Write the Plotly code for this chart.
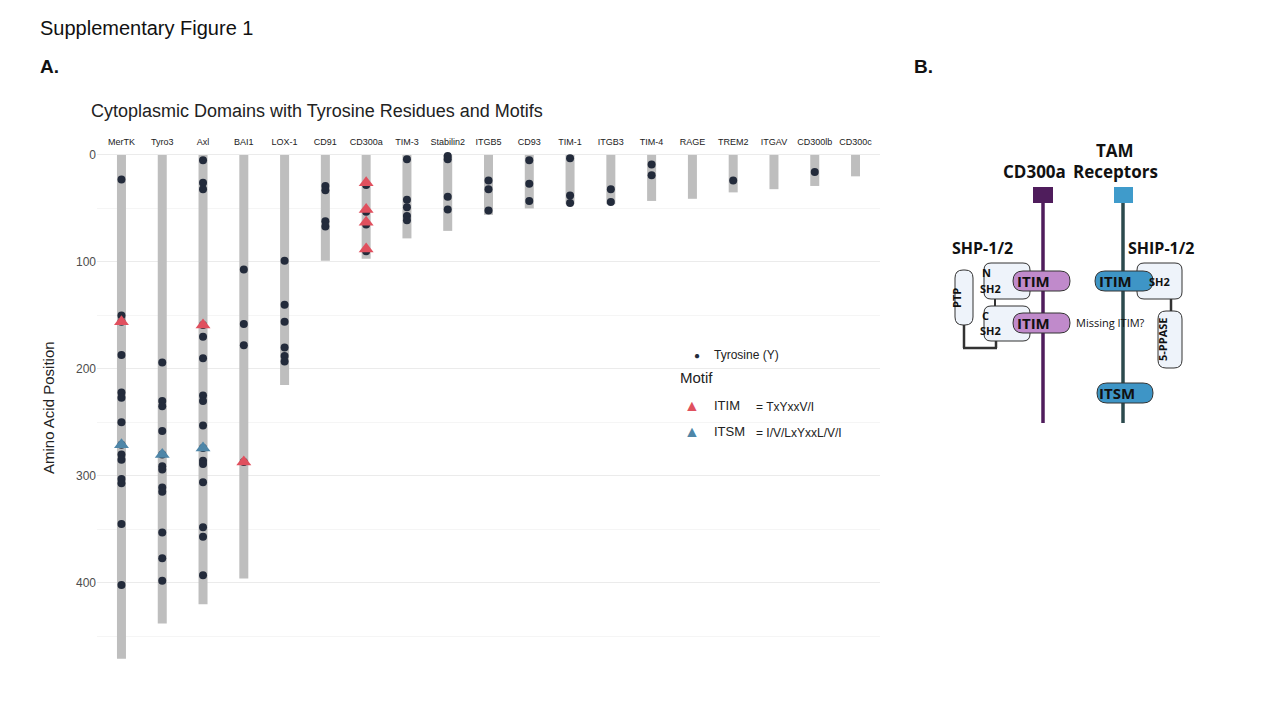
import plotly.graph_objects as go

PROTEINS = ["MerTK", "Tyro3", "Axl", "BAI1", "LOX-1", "CD91", "CD300a", "TIM-3", "Stabilin2",
            "ITGB5", "CD93", "TIM-1", "ITGB3", "TIM-4", "RAGE", "TREM2", "ITGAV", "CD300lb", "CD300c"]
LENGTHS = [471, 438, 420, 396, 215, 99, 97, 78, 71, 56, 50, 46, 46, 43, 41, 35, 32, 29, 20]
TYROSINES = {
    "MerTK": [23, 150, 156, 187, 222, 227, 250, 271, 280, 285, 303, 307, 345, 402],
    "Tyro3": [194, 230, 235, 258, 280, 291, 294, 311, 315, 353, 377, 398],
    "Axl": [5, 26, 32, 159, 170, 190, 225, 230, 253, 274, 286, 289, 306, 348, 357, 393],
    "BAI1": [107, 158, 178, 287],
    "LOX-1": [99, 140, 156, 180, 188, 193],
    "CD91": [29, 33, 62, 67],
    "CD300a": [28, 53, 65, 90],
    "TIM-3": [4, 42, 49, 57, 61],
    "Stabilin2": [1, 4, 39, 51],
    "ITGB5": [24, 32, 52],
    "CD93": [5, 27, 43],
    "TIM-1": [3, 38, 45],
    "ITGB3": [32, 44],
    "TIM-4": [9, 19],
    "TREM2": [24],
    "CD300lb": [16],
}
ITIM = {"MerTK": [156], "Axl": [159], "BAI1": [287], "CD300a": [26, 51, 63, 88]}
ITSM = {"MerTK": [271], "Tyro3": [280], "Axl": [274]}

W, H = 1280, 720
fig = go.Figure()

# cytoplasmic domain bars
bx, by = [], []
for p, l in zip(PROTEINS, LENGTHS):
    bx += [p, p, None]
    by += [0, l, None]
fig.add_trace(go.Scatter(x=bx, y=by, mode="lines", line=dict(color="#BEBEBE", width=9),
                         hoverinfo="skip", showlegend=False))

tx = [p for p, v in TYROSINES.items() for _ in v]
ty = [y for v in TYROSINES.values() for y in v]
fig.add_trace(go.Scatter(x=tx, y=ty, mode="markers", name="Tyrosine (Y)",
                         marker=dict(size=8, color="#232B3B"), showlegend=False))
for motifs, col, name in [(ITIM, "#E0505E", "ITIM"), (ITSM, "#4E86A8", "ITSM")]:
    mx = [p for p, v in motifs.items() for _ in v]
    my = [y for v in motifs.values() for y in v]
    fig.add_trace(go.Scatter(x=mx, y=my, mode="markers", name=name, showlegend=False,
                             marker=dict(size=13, symbol="triangle-up", color=col)))

# invisible full-page axes for panel B and annotations (pixel coordinates)
fig.add_trace(go.Scatter(x=[0], y=[0], xaxis="x2", yaxis="y2", mode="markers",
                         marker=dict(opacity=0), hoverinfo="skip", showlegend=False))


def px(v):
    return v / W


def rrect(x0, y0, x1, y1, r):
    return (f"M{x0+r},{y0} L{x1-r},{y0} Q{x1},{y0} {x1},{y0+r} L{x1},{y1-r} Q{x1},{y1} {x1-r},{y1} "
            f"L{x0+r},{y1} Q{x0},{y1} {x0},{y1-r} L{x0},{y0+r} Q{x0},{y0} {x0+r},{y0} Z")


shapes = []


def box(x0, y0, x1, y1, r, fill, line="#333333", lw=1):
    shapes.append(dict(type="path", xref="x2", yref="y2", path=rrect(x0, y0, x1, y1, r),
                       fillcolor=fill, line=dict(color=line, width=lw), layer="above"))


def seg(x0, y0, x1, y1, color, w):
    shapes.append(dict(type="line", xref="x2", yref="y2", x0=x0, y0=y0, x1=x1, y1=y1,
                       line=dict(color=color, width=w), layer="above"))


# receptor stems
seg(1043, 194, 1043, 415, "#4F1D5C", 3.5)
seg(1123, 194, 1123, 415, "#2C4A4E", 3.5)
shapes.append(dict(type="rect", xref="x2", yref="y2", x0=1033, y0=179, x1=1053, y1=195,
                   fillcolor="#4F1D5C", line=dict(width=0), layer="above"))
shapes.append(dict(type="rect", xref="x2", yref="y2", x0=1114, y0=179, x1=1133, y1=195,
                   fillcolor="#3F9BCB", line=dict(width=0), layer="above"))
# SHP-1/2
seg(995, 290, 995, 299, "#333333", 2)
seg(964, 317, 964, 340, "#333333", 2.5)
seg(963, 340, 997, 340, "#333333", 2.5)
seg(996, 340, 996, 332, "#333333", 2.5)
box(984, 255, 1030, 291, 7, "#EEF3FA")
box(984, 298, 1030, 333, 7, "#EEF3FA")
box(955, 262, 973, 317, 8, "#EEF3FA")
box(1013, 263, 1070, 283, 10, "#C08ACB")
box(1013, 305, 1070, 325, 10, "#C08ACB")
# SHIP-1/2
seg(1171, 290, 1171, 304, "#333333", 2.5)
box(1137, 255, 1182, 291, 7, "#EEF3FA")
box(1158, 303, 1182, 360, 8, "#EEF3FA")
box(1095, 263, 1153, 283, 10, "#3E95C6")
box(1097, 375, 1153, 395, 10, "#3E95C6")

ann = []


def text(x, y, s, size=12, color="#111111", bold=False, anchor="center", angle=0, family="Open Sans"):
    ann.append(dict(xref="x2", yref="y2", x=x, y=y, text=f"<b>{s}</b>" if bold else s,
                    showarrow=False, xanchor=anchor, yanchor="middle", textangle=angle,
                    font=dict(size=size, color=color, family=family)))


text(38, 20, "Supplementary Figure 1", 20, anchor="left", family="Liberation Sans")
text(38, 58, "A.", 19, bold=True, anchor="left", family="Liberation Sans")
text(912, 58, "B.", 19, bold=True, anchor="left", family="Liberation Sans")
text(89, 103, "Cytoplasmic Domains with Tyrosine Residues and Motifs", 18, "#222222", anchor="left",
     family="Liberation Sans")
text(48, 400, "Amino Acid Position", 15, "#222222", angle=-90, family="Liberation Sans")
# legend
text(697, 347, "●", 10, "#232B3B")
text(712, 347, "Tyrosine (Y)", 12, "#222222", anchor="left", family="Liberation Sans")
text(678, 369, "Motif", 15, "#222222", anchor="left", family="Liberation Sans")
text(692, 397, "▲", 16, "#E0505E")
text(692, 423, "▲", 16, "#4E86A8")
text(712, 397, "ITIM", 13, "#222222", anchor="left", family="Liberation Sans")
text(712, 423, "ITSM", 13, "#222222", anchor="left", family="Liberation Sans")
text(754, 399, "= TxYxxV/I", 12, "#222222", anchor="left", family="Liberation Sans")
text(754, 425, "= I/V/LxYxxL/V/I", 12, "#222222", anchor="left", family="Liberation Sans")
# panel B labels
text(1115, 142, "TAM", 17, bold=True)
text(1115, 163, "Receptors", 17, bold=True)
text(1034, 163, "CD300a", 17, bold=True)
text(982, 240, "SHP-1/2", 16, bold=True)
text(1161, 240, "SHIP-1/2", 16, bold=True)
text(980, 264, "N", 11, bold=True, anchor="left")
text(978, 280, "SH2", 11, bold=True, anchor="left")
text(980, 307, "C", 11, bold=True, anchor="left")
text(978, 322, "SH2", 11, bold=True, anchor="left")
text(956, 290, "PTP", 11, bold=True, angle=-90)
text(1033, 273, "ITIM", 15, bold=True)
text(1033, 315, "ITIM", 15, bold=True)
text(1115, 273, "ITIM", 15, bold=True)
text(1117, 385, "ITSM", 15, bold=True)
text(1159, 273, "SH2", 11, bold=True)
text(1162, 332, "5-PPASE", 11, bold=True, angle=-90)
text(1110, 314, "Missing ITIM?", 11)

# shift panel B shapes to compensate page offset
for s in shapes:
    if s["type"] == "path":
        pass
fig.update_layout(
    width=W, height=H, margin=dict(l=0, r=0, t=0, b=0),
    paper_bgcolor="white", plot_bgcolor="rgba(0,0,0,0)", showlegend=False,
    font=dict(family="Liberation Sans"),
    xaxis=dict(domain=[px(89), px(872)], side="top", showgrid=False, zeroline=False,
               tickfont=dict(size=9, color="#222222"), ticks="", categoryorder="array",
               categoryarray=PROTEINS, range=[-0.6, 18.6], anchor="y"),
    yaxis=dict(domain=[1 - 655 / H, 1 - 140 / H], range=[475, -6.5], tickvals=[0, 100, 200, 300, 400],
               gridcolor="#EBEBEB", zeroline=False, tickfont=dict(size=12, color="#4D4D4D"),
               minor=dict(dtick=50, showgrid=True, gridcolor="#F5F5F5"), anchor="x"),
    xaxis2=dict(domain=[0, 1], range=[8, W + 8], visible=False, anchor="y2", fixedrange=True),
    yaxis2=dict(domain=[0, 1], range=[H, 0], visible=False, anchor="x2", fixedrange=True),
    shapes=shapes, annotations=ann,
)
fig.write_html("out.html")
